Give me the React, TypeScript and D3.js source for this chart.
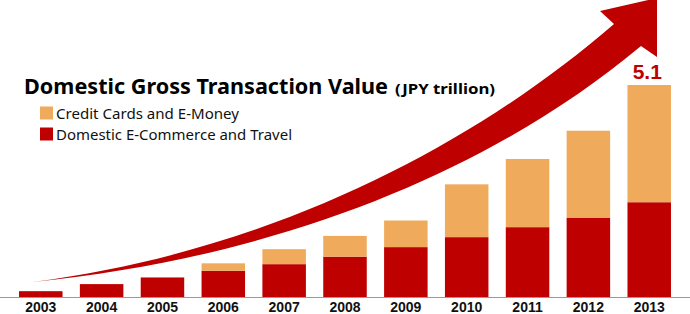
import React from "react";
import * as d3 from "d3";

const years = ["2003", "2004", "2005", "2006", "2007", "2008", "2009", "2010", "2011", "2012", "2013"];
const ecommerce = [0.14, 0.31, 0.47, 0.63, 0.79, 0.97, 1.2, 1.44, 1.68, 1.91, 2.28];
const creditCards = [0, 0, 0, 0.18, 0.36, 0.5, 0.64, 1.27, 1.64, 2.09, 2.82];
const seriesNames = ["Credit Cards and E-Money", "Domestic E-Commerce and Travel"];
const totalLabel = "5.1";

const W = 690;
const H = 314;
const RED = "#bf0000";
const ORANGE = "#f0aa5c";

export default function App() {
  const x = d3.scaleBand<string>().domain(years).range([10.35, 679.65]).paddingInner(0.285).paddingOuter(0.1425);
  const y = d3.scaleLinear().domain([0, 5.1]).range([297, 85]);

  // decorative swoosh arrow, built with d3.path from cubic curves
  const p = d3.path();
  p.moveTo(33, 282);
  p.bezierCurveTo(280, 250, 480, 140, 614, 24); // upper edge
  p.lineTo(600, 11); // left barb
  p.lineTo(657, -2); // tip
  p.lineTo(657, 57); // right barb
  p.lineTo(641, 46); // neck
  p.bezierCurveTo(505, 160, 300, 255, 33, 282); // lower edge back
  p.closePath();
  const arrowPath = p.toString();

  const stack = years.map((yr, i) => ({ yr, red: ecommerce[i], orange: creditCards[i] }));
  const last = stack[stack.length - 1];

  return (
    <svg width={W} height={H} style={{ position: "absolute", left: 0, top: 0, background: "#fff" }}>
      <path d={arrowPath} fill={RED} />
      {stack.map((d) => (
        <g key={d.yr}>
          <rect x={x(d.yr)} y={y(d.red)} width={x.bandwidth()} height={y(0) - y(d.red)} fill={RED} />
          {d.orange > 0 && (
            <rect
              x={x(d.yr)}
              y={y(d.red + d.orange)}
              width={x.bandwidth()}
              height={y(d.red) - y(d.red + d.orange)}
              fill={ORANGE}
            />
          )}
        </g>
      ))}
      <line x1={0} x2={W} y1={297.5} y2={297.5} stroke="#999" strokeWidth={1} />
      {years.map((yr) => (
        <text
          key={yr}
          x={(x(yr) as number) + x.bandwidth() / 2}
          y={312}
          textAnchor="middle"
          fontFamily="Liberation Sans, Arial, sans-serif"
          fontWeight="bold"
          fontSize={14}
          fill="#111"
        >
          {yr}
        </text>
      ))}
      <text
        x={(x(last.yr) as number) + x.bandwidth() / 2 - 2}
        y={y(last.red + last.orange) - 6}
        textAnchor="middle"
        fontFamily="Liberation Sans, Arial, sans-serif"
        fontWeight="bold"
        fontSize={21}
        fill={RED}
      >
        {totalLabel}
      </text>
      <text x={24} y={94} fontFamily="Noto Sans, sans-serif" fontWeight="bold" fontSize={21} fill="#000" textLength={364} lengthAdjust="spacingAndGlyphs">
        Domestic Gross Transaction Value
      </text>
      <text x={395} y={94} fontFamily="Noto Sans, sans-serif" fontWeight="bold" fontSize={15} fill="#000" textLength={100} lengthAdjust="spacingAndGlyphs">
        (JPY trillion)
      </text>
      <rect x={40} y={106.5} width={13} height={13} fill={ORANGE} />
      <text x={56} y={118.5} fontFamily="Noto Sans, sans-serif" fontSize={15} fill="#111" textLength={183} lengthAdjust="spacingAndGlyphs">
        {seriesNames[0]}
      </text>
      <rect x={40} y={127.5} width={13} height={13} fill={RED} />
      <text x={56} y={139.5} fontFamily="Noto Sans, sans-serif" fontSize={15} fill="#111" textLength={236} lengthAdjust="spacingAndGlyphs">
        {seriesNames[1]}
      </text>
    </svg>
  );
}
